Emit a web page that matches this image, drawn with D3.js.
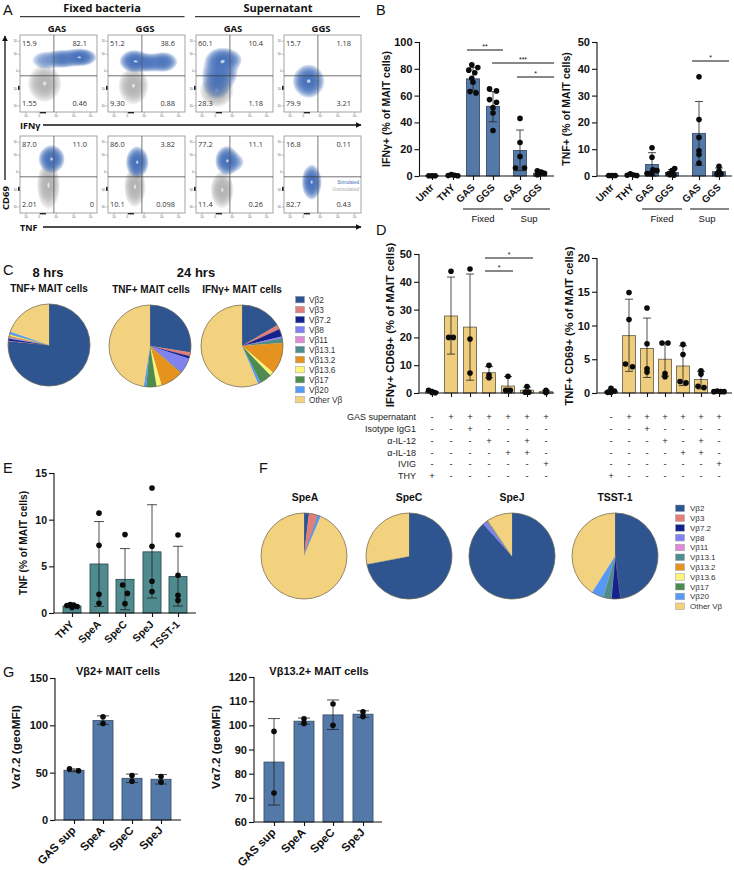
<!DOCTYPE html>
<html><head><meta charset="utf-8">
<script src="https://cdn.jsdelivr.net/npm/d3@7/dist/d3.min.js"></script>
<style>
html,body{margin:0;padding:0;background:#fff}
svg{display:block}
text{font-family:"Liberation Sans",Arial,sans-serif;fill:#111}
.os{font-family:"Open Sans","Noto Sans",sans-serif}
</style></head><body><div id="c"></div>
<script>
// ---------- DATA ----------
const vbNames=["Vβ2","Vβ3","Vβ7.2","Vβ8","Vβ11","Vβ13.1","Vβ13.2","Vβ13.6","Vβ17","Vβ20","Other Vβ"];
const vbColors=["#2f5590","#e27f7a","#14228c","#8082f0","#e08ad6","#4f8c8c","#e6921f","#fdf47c","#4f8a4f","#5599f5","#f2d27f"];
const pie8hTNF=[76.5,0.2,0.8,0.3,0.3,0.1,0.5,0.5,0.1,1,19.7];
const pie24hTNF=[27.5,1.5,1,6,0,0.5,9,2,4,1,47.5];
const pie24hIFN=[16.5,1.8,3,0.7,0,1.8,12.5,1.5,4.7,1.1,56.4];
const pieSpeA=[1.9,3.4,0,0,0,0,0,0,0,1.1,93.6];
const pieSpeC=[72,0,0,0,0,0,0,0,0,0,28];
const pieSpeJ=[88.3,0,0,1.6,0,0.4,0.3,0,0,0,9.4];
const pieTSST=[48,0,3.4,0,0,3.1,0,0,0,4.5,41];

const bCats=["Untr","THY","GAS","GGS","GAS","GGS"];
const bIfnMean=[0.2,0.5,72.5,52,19,2];
const bIfnErr=[[0,0.5],[0,1],[64,81],[40.5,63],[4,34.3],[0.5,3.5]];
const bIfnPts=[[0.2,0.2,0.2],[1,0.6,0.3,0.2],[83,81,79,77,73,70,63,62],[65,63.5,57,55,51,47,34],[43,25,14.5,6,6],[3.8,3,2.5,2,1.5,1]];
const bTnfMean=[0.1,0.4,4.3,1.3,15.9,1.6];
const bTnfErr=[[0,0.2],[0,0.7],[0,8.7],[0,2.4],[4,27.8],[0.2,3]];
const bTnfPts=[[0.2,0.2,0.2],[0.8,0.4,0.3,0.2],[10.5,7,2.3,2,1,0.9,0.8],[2.8,2,1.4,0.8,0.5,0.3],[37,21.1,14.4,9.4,8,4.8],[3.6,1.9,0.9,0.8,0.7,0.6]];

const dIfnMean=[0.5,27.7,23.7,7.3,2.5,1,0.5];
const dIfnErr=[[0,0.9],[14,41.7],[4.6,42.8],[5.5,9.5],[0,5.9],[0,2.1],[0,0.9]];
const dIfnPts=[[1,0.5,0.2,0.1],[43.8,20,20],[44.6,19.4,7.2],[10,6.5,5.5],[6,1,1],[2.3,0.3,0.3],[1,0.3,0.2]];
const dTnfMean=[0.25,8.5,6.6,5,4,2,0.2];
const dTnfErr=[[0,0.5],[3.2,13.9],[2.3,11.1],[2.5,7.4],[1.1,7],[0.6,3.2],[0.1,0.3]];
const dTnfPts=[[0.7,0.3,0.1,0.1],[14.9,10.9,4.3,3.9],[12.6,7.3,3.6,3.1],[7.4,7.4,2.9,2.4],[7.2,5.7,1.7,1.5],[3.3,2.8,1,0.8],[0.3,0.2,0.2,0.2]];
const tableLabels=["GAS supernatant","Isotype IgG1","α-IL-12","α-IL-18","IVIG","THY"];
const tableRows=["-++++++","--+----","---+-+-","----++-","------+","+------"];

const eCats=["THY","SpeA","SpeC","SpeJ","TSST-1"];
const eMean=[0.75,5.25,3.6,6.55,3.9];
const eErr=[[0.6,0.9],[0.7,9.8],[0.35,6.9],[1.6,11.6],[0.75,7.15]];
const ePts=[[0.9,0.85,0.8,0.7,0.6],[10.7,7.25,2,1.05],[8.4,3,2.1,1],[13.4,7.15,3.4,2.3],[8.35,4.05,1.9,1.35]];

const gCats=["GAS sup","SpeA","SpeC","SpeJ"];
const g2Mean=[52.5,105,44,43];
const g2Err=[[51,54],[101,110],[39.5,48.5],[38,48]];
const g2Pts=[[54,52],[109,102],[47,41],[46,40]];
const g13Mean=[84.8,101.7,104.3,104.6];
const g13Err=[[67,102.8],[100.5,103],[98.3,110.5],[103.3,106]];
const g13Pts=[[97.5,72],[102.7,100.8],[108.8,100],[105.6,103.7]];

// FACS quadrant frequencies: UL, UR, LL, LR
const facsTop=[["15.9","82.1","1.55","0.46"],["51.2","38.6","9.30","0.88"],["60.1","10.4","28.3","1.18"],["15.7","1.18","79.9","3.21"]];
const facsBottom=[["87.0","11.0","2.01","0"],["86.0","3.82","10.1","0.098"],["77.2","11.1","11.4","0.26"],["16.8","0.11","82.7","0.43"]];
// density lobes, in percent of plot box: cx, cy, sx, sy, weight
const blueTop=[
 [[78,29,9,4.6,1],[55,31,9.5,5,.7],[32,33,9,6,.28]],
 [[34,34,8,6,.9],[52,36,9,5,.65],[72,35,8,5.5,.7]],
 [[33,33,9,7,.85],[31,50,10,9,.8],[44,32,8,6,.32],[27,66,9,9,.35]],
 [[32,60,8.5,9,1]]];
const grayTop=[[[32,63,9,10,1]],[[33,66,8,10,1]],[[27,72,9,9,1]],[]];
const blueBottom=[[[41,30,7,7.5,1]],[[38,34,6,8.5,1]],[[40,32,6.2,8,1],[50,34,7,6,.25]],[[36,60,5.2,9.5,1]]];
const grayBottom=[[[37,64,6,13,1]],[[35,66,5.6,11,1]],[[34,70,6,10,1]],[]];

// ---------- CANVAS ----------
const W=734,H=870;
const svg=d3.select("#c").append("svg").attr("width",W).attr("height",H).attr("viewBox",[0,0,W,H]);
function txt(x,y,s,o={}){
  const t=svg.append("text").attr("x",x).attr("y",y).text(s)
    .attr("font-size",o.size||9).attr("font-weight",o.bold?"bold":"normal")
    .attr("text-anchor",o.anchor||"start");
  if(o.cls)t.attr("class",o.cls);
  if(o.fill)t.style("fill",o.fill);
  if(o.rot!=null)t.attr("transform",`rotate(${o.rot},${x},${y})`);
  return t;
}
function ln(x1,y1,x2,y2,w=1.2,c="#111"){svg.append("line").attr("x1",x1).attr("y1",y1).attr("x2",x2).attr("y2",y2).attr("stroke",c).attr("stroke-width",w);}
[["A",3,15],["B",376,15],["C",3,275],["D",376,235],["E",3,473],["F",259,473],["G",3,677]].forEach(d=>txt(d[1],d[2],d[0],{size:14.5}));

// ---------- PANEL A ----------
const boxX=[20,108,196,284],boxW=77,boxTops=[35,136];
const pct=d3.scaleLinear().domain([0,100]);
const logTicks=[8,25,47,70,92];
const levels=[.07,.1,.13,.17,.21,.26,.31,.37,.44,.52,.61,.71,.83,.965];
function density(group,lobes,color,x,y,stepOp){
  if(!lobes.length)return;
  const n=77,vals=new Float64Array(n*n);
  for(let j=0;j<n;j++)for(let i=0;i<n;i++){
    const px=(i+.5)/n*100,py=(j+.5)/n*100;let v=0;
    lobes.forEach(l=>{const a=(px-l[0])/l[2],b=(py-l[1])/l[3];v+=l[4]*Math.exp(-.5*(a*a+b*b));});
    vals[j*n+i]=v;
  }
  const mx=d3.max(vals),th=levels.map(k=>mx*k);
  const conts=d3.contours().size([n,n]).thresholds(th)(vals);
  const path=d3.geoPath(d3.geoTransform({point(a,b){this.stream.point(x+a/n*boxW,y+b/n*boxW);}}));
  group.selectAll(null).data(conts).join("path").attr("d",path)
    .attr("fill",(d,i)=>i>=th.length-1?"#eef3fb":color)
    .attr("fill-opacity",(d,i)=>i>=th.length-1?.75:stepOp)
    .attr("stroke",color).attr("stroke-opacity",.5).attr("stroke-width",.3);
}
function facs(x,y,q,blue,gray){
  const g=svg.append("g");
  const sx=pct.copy().range([x,x+boxW]),sy=pct.copy().range([y,y+boxW]);
  density(g,gray,"#a8a8a8",x,y,.11);
  density(g,blue,"#3568b4",x,y,.15);
  g.append("rect").attr("x",x).attr("y",y).attr("width",boxW).attr("height",boxW).attr("fill","none").attr("stroke","#9a9a9a").attr("stroke-width",.9);
  g.append("line").attr("x1",sx(44)).attr("x2",sx(44)).attr("y1",y).attr("y2",y+boxW).attr("stroke","#555").attr("stroke-width",.8);
  g.append("line").attr("x1",x).attr("x2",x+boxW).attr("y1",sy(53)).attr("y2",sy(53)).attr("stroke","#333").attr("stroke-width",.7);
  logTicks.forEach((t,k)=>{
    g.append("line").attr("x1",x-2).attr("x2",x).attr("y1",sy(t)).attr("y2",sy(t)).attr("stroke","#666").attr("stroke-width",.4);
    g.append("line").attr("x1",sx(t)).attr("x2",sx(t)).attr("y1",y+boxW).attr("y2",y+boxW+2).attr("stroke","#666").attr("stroke-width",.4);
    g.append("text").attr("x",x-2.5).attr("y",sy(t)+1).attr("text-anchor","end").attr("font-size",2.8).text(k==2?"0":"10³").style("fill","#555");
    g.append("text").attr("x",sx(t)).attr("y",y+boxW+5).attr("text-anchor","middle").attr("font-size",2.8).text(k==1?"0":"10³").style("fill","#555");
  });
  g.append("rect").attr("x",x-2).attr("y",sy(66)).attr("width",1.6).attr("height",4).attr("fill","#222");
  g.append("rect").attr("x",sx(26)).attr("y",y+boxW).attr("width",6).attr("height",1.4).attr("fill","#222");
  const cls={cls:"os",size:7.4,fill:"#333"};
  txt(x+2,y+10.5,q[0],cls);
  txt(x+boxW-10,y+10.5,q[1],{...cls,anchor:"end"});
  txt(x+2,y+70.5,q[2],cls);
  txt(q[3]=="0"?x+boxW-3:x+boxW-10,y+70.5,q[3],{...cls,anchor:"end"});
}
boxX.forEach((x,i)=>{
  facs(x,boxTops[0],facsTop[i],blueTop[i],grayTop[i]);
  facs(x,boxTops[1],facsBottom[i],blueBottom[i],grayBottom[i]);
});
txt(359,184,"Stimulated",{size:4.6,anchor:"end",fill:"#3f6fb0"});
txt(359,190.5,"Unstimulated",{size:4.6,anchor:"end",fill:"#aaa"});
txt(102,11.5,"Fixed bacteria",{size:11,bold:1,anchor:"middle",cls:"os"});
txt(278,11.5,"Supernatant",{size:11,bold:1,anchor:"middle",cls:"os"});
ln(20,16.7,184.5,16.7,1);ln(195,16.7,360,16.7,1);
["GAS","GGS","GAS","GGS"].forEach((s,i)=>txt(boxX[i]+37,32,s,{size:9.5,bold:1,anchor:"middle",cls:"os"}));
svg.append("defs").append("marker").attr("id","ah").attr("viewBox","0 0 10 10").attr("refX",9).attr("refY",5).attr("markerWidth",6).attr("markerHeight",6).attr("markerUnits","userSpaceOnUse").attr("orient","auto")
  .append("path").attr("d","M0,0L10,5L0,10z").attr("fill","#111");
function arrow(x1,y1,x2,y2){svg.append("line").attr("x1",x1).attr("y1",y1).attr("x2",x2).attr("y2",y2).attr("stroke","#111").attr("stroke-width",1.3).attr("marker-end","url(#ah)");}
arrow(5,180,5,36);arrow(43,125,361,125);arrow(43,227,361,227);
txt(8.5,210,"CD69",{size:9.5,bold:1,rot:-90,cls:"os"});
txt(20,129,"IFNγ",{size:9,bold:1,cls:"os"});
txt(20,230.5,"TNF",{size:9,bold:1,cls:"os"});

// ---------- BAR PANELS ----------
function swarm(vals,y,d){
  const pl=[];
  vals.slice().sort((a,b)=>b-a).forEach(v=>{
    const py=y(v);let best=0;
    for(let k=0;k<12;k++){
      const o=(k%2?1:-1)*Math.ceil(k/2)*d/2;
      if(pl.every(p=>Math.hypot(p.dx-o,p.py-py)>=d)){best=o;break;}
    }
    pl.push({dx:best,py});
  });
  const seen=new Set();
  pl.forEach((p,i)=>{
    if(seen.has(i))return;
    const cl=[i];seen.add(i);
    for(let c=0;c<cl.length;c++)pl.forEach((q,j)=>{
      if(!seen.has(j)&&Math.hypot(pl[cl[c]].dx-q.dx,pl[cl[c]].py-q.py)<d*1.1){seen.add(j);cl.push(j);}
    });
    const m=d3.mean(cl,k=>pl[k].dx);cl.forEach(k=>pl[k].dx-=m);
  });
  return pl;
}
function bars(o){
  const g=svg.append("g");
  const y=d3.scaleLinear().domain(o.dom).range([o.y0,o.y1]);
  const x=d3.scaleOrdinal().domain(o.cats.map((c,i)=>i)).range(o.centers);
  const bw=o.bw,base=o.dom[0];
  g.selectAll(null).data(o.mean).join("rect")
    .attr("x",(d,i)=>x(i)-bw/2).attr("width",bw)
    .attr("y",d=>y(d)).attr("height",d=>y(base)-y(d))
    .attr("fill",o.color).attr("stroke",o.edge).attr("stroke-width",.9);
  o.err.forEach((e,i)=>{
    const cx=x(i),a=y(Math.max(e[0],base)),b=y(e[1]),c=o.cap;
    g.append("path").attr("d",`M${cx},${a}V${b}M${cx-c},${b}H${cx+c}M${cx-c},${a}H${cx+c}`).attr("fill","none").attr("stroke","#222").attr("stroke-width",.8);
  });
  o.pts.forEach((p,i)=>{
    const d=Array.isArray(o.dot)?o.dot[i]:o.dot;
    swarm(p,y,d).forEach(s=>{
      g.append("circle").attr("cx",x(i)+s.dx).attr("cy",s.py).attr("r",o.r||2.8).attr("fill","#0a0a0a");
    });
  });
  const ya=g.append("g").attr("transform",`translate(${o.x0},0)`).call(d3.axisLeft(y).tickValues(o.ticks).tickSize(5).tickPadding(2));
  ya.selectAll("text").attr("font-size",o.tickSize||11).attr("font-weight","bold").attr("font-family","Liberation Sans");
  ya.selectAll("line").attr("stroke","#111").attr("stroke-width",1.1);
  ya.select(".domain").attr("d",`M0,${o.y0}V${o.y1}`).attr("stroke","#111").attr("stroke-width",1.1);
  const xa=g.append("g").attr("transform",`translate(0,${o.y0})`).call(d3.axisBottom(x).tickSize(4).tickFormat(i=>o.cats[i]));
  xa.select(".domain").attr("d",`M${o.x0},0H${o.x1}`).attr("stroke","#111").attr("stroke-width",1.1);
  xa.selectAll("line").attr("stroke","#111").attr("stroke-width",1.1);
  if(o.noLabels)xa.selectAll("text").remove();
  else xa.selectAll("text").attr("font-size",o.catSize||10).attr("font-weight","bold").attr("font-family","Liberation Sans")
    .attr("text-anchor","end").attr("dy",0).attr("transform",`translate(2,${o.catDy||12}) rotate(-45)`).attr("y",0).attr("x",0);
  txt(o.labX,o.labY,o.label,{size:o.labSize||10.5,bold:1,anchor:"middle",rot:-90});
  return {x,y};
}
function sig(x1,x2,yy,stars){ln(x1,yy,x2,yy,1);txt((x1+x2)/2,yy-1.5,stars,{size:7,anchor:"middle"});}
const blue="#5379a9",blueEdge="#3e5068",yel="#efcd7c",yelEdge="#6d6755",teal="#4f8a8e",tealEdge="#2f4f52";
bars({cats:bCats,mean:bIfnMean,err:bIfnErr,pts:bIfnPts,dom:[0,100],ticks:[0,20,40,60,80,100],y0:176,y1:42,x0:419.5,x1:554,centers:[432,453,473,493,520,540],bw:13,cap:4,dot:[3.2,3.2,6,7,9,3.6],color:blue,edge:blueEdge,label:"IFNγ+ (% of MAIT cells)",labX:390,labY:109});
bars({cats:bCats,mean:bTnfMean,err:bTnfErr,pts:bTnfPts,dom:[0,50],ticks:[0,10,20,30,40,50],y0:176,y1:42,x0:597,x1:732,centers:[612,632,652,672,699,719],bw:13,cap:4,dot:[3.2,3.2,4,4,7,3.6],color:blue,edge:blueEdge,label:"TNF+ (% of MAIT cells)",labX:570,labY:109});
ln(463,209,503,209,1);ln(511,209,550,209,1);ln(642,209,682,209,1);ln(690,209,729,209,1);
txt(483,222,"Fixed",{size:9.5,anchor:"middle"});txt(529,222,"Sup",{size:9.5,anchor:"middle"});
txt(662,222,"Fixed",{size:9.5,anchor:"middle"});txt(707,222,"Sup",{size:9.5,anchor:"middle"});
sig(467,503,50,"**");sig(492,554,63,"***");sig(517,554,77,"*");sig(692,729,61,"*");

const blank=["","","","","","",""];
const dL=bars({cats:blank,noLabels:1,mean:dIfnMean,err:dIfnErr,pts:dIfnPts,dom:[0,50],ticks:[0,10,20,30,40,50],y0:393,y1:254,x0:419,x1:554,centers:[432,451,470,489,508,527,546],bw:13,cap:4,dot:[3.4,4.6,4.6,4.6,4.6,3.6,3.4],color:yel,edge:yelEdge,label:"IFNγ+ CD69+ (% of MAIT cells)",labX:394,labY:325,labSize:11.4});
const dR=bars({cats:blank,noLabels:1,mean:dTnfMean,err:dTnfErr,pts:dTnfPts,dom:[0,20],ticks:[0,5,10,15,20],y0:393,y1:258,x0:597,x1:732,centers:[611,629,647,665,683,701,719],bw:13,cap:4,dot:[3.4,7,6,6,6,6,3.4],color:yel,edge:yelEdge,label:"TNF+ CD69+ (% of MAIT cells)",labX:573,labY:326,labSize:11.2});
sig(485,533,258,"*");sig(485,513,271,"*");
const rowY=[417,429,441,453,464,476];
tableLabels.forEach((s,i)=>txt(416,rowY[i]+3,s,{size:9,anchor:"end",fill:"#222"}));
tableRows.forEach((r,i)=>[...r].forEach((c,j)=>{
  [dL,dR].forEach(p=>txt(p.x(j),rowY[i]+3,c,{size:9.5,anchor:"middle",fill:"#222"}));
}));

bars({cats:eCats,mean:eMean,err:eErr,pts:ePts,dom:[0,15],ticks:[0,5,10,15],y0:613,y1:473,x0:54,x1:196,centers:[72,99,125,152,178],bw:18,cap:5,dot:[3.4,6,9.5,6,9.5],color:teal,edge:tealEdge,label:"TNF (% of MAIT cells)",labX:27,labY:543,labSize:10.2,tickSize:10.5,catSize:10.5});
bars({cats:gCats,mean:g2Mean,err:g2Err,pts:g2Pts,dom:[0,150],ticks:[0,50,100,150],y0:820,y1:678,x0:55,x1:181,centers:[74,103,132,161],bw:20,cap:6,dot:9,color:blue,edge:blueEdge,label:"Vα7.2 (geoMFI)",labX:20,labY:747,labSize:11.8,tickSize:11,catSize:11.5,catDy:11});
bars({cats:gCats,mean:g13Mean,err:g13Err,pts:g13Pts,dom:[60,120],ticks:[60,70,80,90,100,110,120],y0:822,y1:677,x0:254,x1:382,centers:[274,304,333,363],bw:20,cap:6,dot:9,color:blue,edge:blueEdge,label:"Vα7.2 (geoMFI)",labX:220,labY:747,labSize:11.8,tickSize:11,catSize:11.5,catDy:11});
txt(118,675,"Vβ2+ MAIT cells",{size:11,bold:1,anchor:"middle"});
txt(319,675,"Vβ13.2+ MAIT cells",{size:11,bold:1,anchor:"middle"});

// ---------- PIES ----------
function pie(vals,cx,cy,r){
  const g=svg.append("g").attr("transform",`translate(${cx},${cy})`);
  const arcs=d3.pie().sort(null)(vals);
  const arc=d3.arc().innerRadius(0).outerRadius(r);
  g.selectAll(null).data(arcs).join("path").attr("d",arc).attr("fill",(d,i)=>vbColors[i]).attr("stroke",(d,i)=>vbColors[i]).attr("stroke-width",.2);
  g.append("circle").attr("r",r).attr("fill","none").attr("stroke","#6b6552").attr("stroke-width",.7);
}
pie(pie8hTNF,49,345,41);pie(pie24hTNF,150,346,41);pie(pie24hIFN,242,346,41);
pie(pieSpeA,304,556,43);pie(pieSpeC,409,556,43);pie(pieSpeJ,512,556,43);pie(pieTSST,615,556,43);
function legend(x,y0,dy,tx,sz){
  vbNames.forEach((n,i)=>{
    svg.append("rect").attr("x",x).attr("y",y0+i*dy-3.2).attr("width",9).attr("height",6.6).attr("fill",vbColors[i]).attr("stroke","#9aa0a8").attr("stroke-width",.5);
    txt(tx,y0+i*dy+3,n,{size:sz,fill:"#333"});
  });
}
legend(295.5,299.5,10,309,8.3);
legend(675.5,508.2,9.8,690,8);
txt(48,277,"8 hrs",{size:13,bold:1,anchor:"middle"});
txt(196,277,"24 hrs",{size:13,bold:1,anchor:"middle"});
txt(49,292,"TNF+ MAIT cells",{size:10,bold:1,anchor:"middle"});
txt(151,293,"TNF+ MAIT cells",{size:10,bold:1,anchor:"middle"});
txt(242,293,"IFNγ+ MAIT cells",{size:10,bold:1,anchor:"middle"});
["SpeA","SpeC","SpeJ","TSST-1"].forEach((s,i)=>txt([305,409,512,615][i],501,s,{size:10.4,bold:1,anchor:"middle"}));
</script></body></html>
